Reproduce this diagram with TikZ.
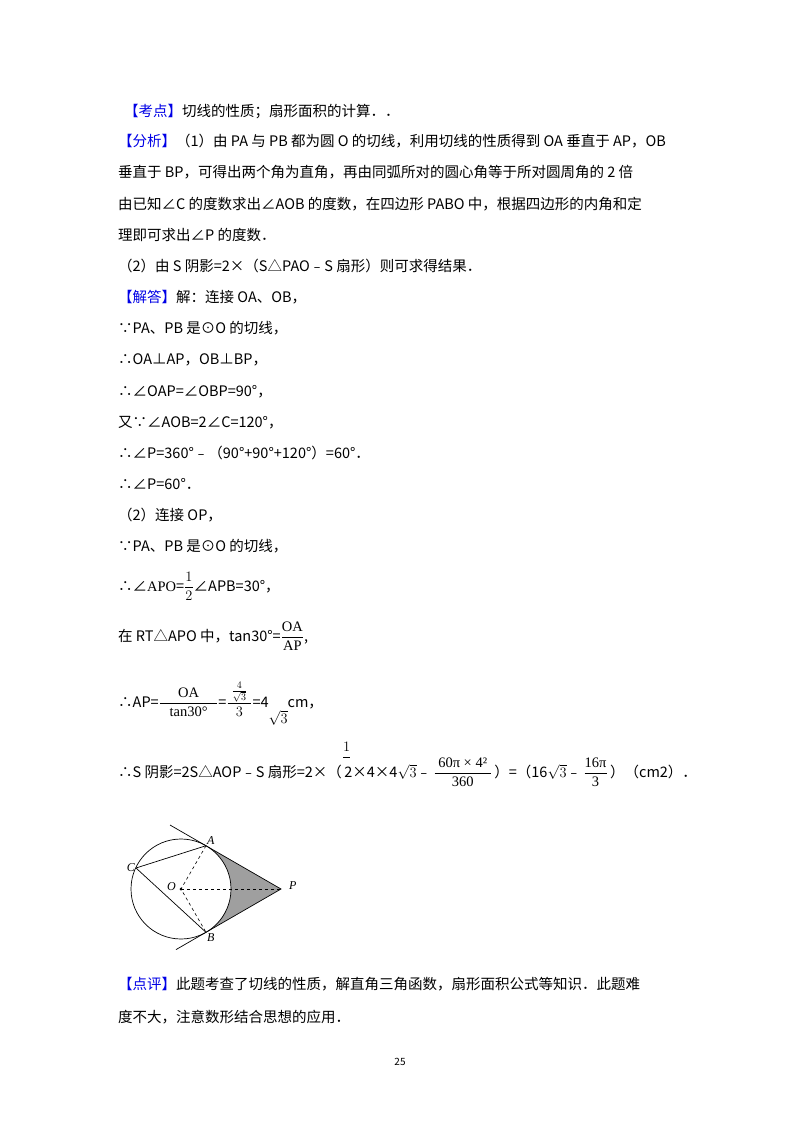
\documentclass[tikz,border=0pt]{standalone}
\usepackage{fontspec}
\setmainfont{Noto Sans CJK SC}
\newfontfamily\lat{Liberation Serif}
\begin{document}
\begin{tikzpicture}[x=1pt,y=-1pt,
  t/.style={anchor=base west,inner sep=0pt,font=\fontsize{14.5}{16}\selectfont},
  lab/.style={font=\lat\itshape\fontsize{12}{12}\selectfont,inner sep=1pt}]
\useasboundingbox (0,0) rectangle (800,1132);
\fill[white] (0,0) rectangle (800,1132);
\definecolor{kb}{RGB}{0,0,230}
\node[t] (l1) at (124,116) {{\color{kb}【考点】}切线的性质；扇形面积的计算．．};
\node[t] (l2) at (118,146) {{\color{kb}【分析】}（1）由 PA 与 PB 都为圆 O 的切线，利用切线的性质得到 OA 垂直于 AP，OB};
\node[t] (l3) at (118,177) {垂直于 BP，可得出两个角为直角，再由同弧所对的圆心角等于所对圆周角的 2 倍};
\node[t] (l4) at (118,209) {由已知∠C 的度数求出∠AOB 的度数，在四边形 PABO 中，根据四边形的内角和定};
\node[t] (l5) at (118,240) {理即可求出∠P 的度数．};
\node[t] (l6) at (118,271) {（2）由 S 阴影=2×（S△PAO﹣S 扇形）则可求得结果．};
\node[t] (l7) at (118,302) {{\color{kb}【解答】}解：连接 OA、OB，};
\node[t] (l8) at (118,333) {∵PA、PB 是⊙O 的切线，};
\node[t] (l9) at (118,364) {∴OA⊥AP，OB⊥BP，};
\node[t] (l10) at (118,396) {∴∠OAP=∠OBP=90°，};
\node[t] (l11) at (118,427) {又∵∠AOB=2∠C=120°，};
\node[t] (l12) at (118,458) {∴∠P=360°﹣（90°+90°+120°）=60°．};
\node[t] (l13) at (118,489) {∴∠P=60°．};
\node[t] (l14) at (118,520) {（2）连接 OP，};
\node[t] (l15) at (118,551) {∵PA、PB 是⊙O 的切线，};
\node[t] (l16) at (118,591) {∴∠{\lat APO}=$\displaystyle\frac{1}{2}$∠APB=30°，};
\node[t] (l17) at (118,641) {在 RT△APO 中，tan30°=$\displaystyle\frac{\mbox{\lat OA}}{\mbox{\lat AP}}$,};
\node[t] (l18) at (118,707) {∴AP=$\displaystyle\frac{\mbox{\lat\quad\ OA\quad\ }}{\mbox{\lat tan30°}}$=$\displaystyle\frac{\;\textstyle\frac{4}{\sqrt{3}}\;}{3}$=4\raisebox{-16pt}{$\sqrt{3}$}cm，};
\node[t] (l19) at (118,777) {∴S 阴影=2S△AOP﹣S 扇形=2×（\raisebox{16pt}{$\displaystyle\frac{1}{\phantom{2}}$}\kern-7pt 2×4×4$\sqrt{3}$﹣\,$\displaystyle\frac{\mbox{\lat\ 60π × 4²\ }}{\mbox{\lat 360}}$\,）=（16$\sqrt{3}$﹣\,$\displaystyle\frac{\mbox{\lat 16π}}{\mbox{\lat 3}}$\,）（cm2）．};
% figure
\coordinate (O) at (181,889);
\coordinate (P) at (281,889);
\coordinate (A) at (206,845.7);
\coordinate (B) at (206,932.3);
\coordinate (C) at (136,868);
\coordinate (T1) at (170,825);
\coordinate (T2) at (176,949.6);
\fill[gray!75] (A) -- (P) -- (B) arc[start angle=60,end angle=-60,radius=50] -- cycle;
\draw[line width=0.7pt] (O) circle[radius=50];
\draw[line width=0.7pt] (T1) -- (P) -- (T2);
\draw[line width=0.7pt] (A) -- (C) -- (B);
\draw[dashed,line width=0.6pt] (A) -- (O) -- (B);
\draw[dashed,line width=0.6pt] (O) -- (P);
\fill (O) circle[radius=1.5];
\node[lab,above right] (la) at (A) {A};
\node[lab,below right] (lb) at (B) {B};
\node[lab,left] (lc) at (C) {C};
\node[lab,left] (lo) at (177,887) {O};
\node[lab,right] (lp) at (288,886) {P};
\node[t] (l20) at (118,989) {{\color{kb}【点评】}此题考查了切线的性质，解直角三角函数，扇形面积公式等知识．此题难};
\node[t] (l21) at (118,1022) {度不大，注意数形结合思想的应用．};
\node[anchor=base,inner sep=0pt,font=\fontsize{10}{10}\selectfont] (pg) at (400,1065) {25};
\end{tikzpicture}
\end{document}
